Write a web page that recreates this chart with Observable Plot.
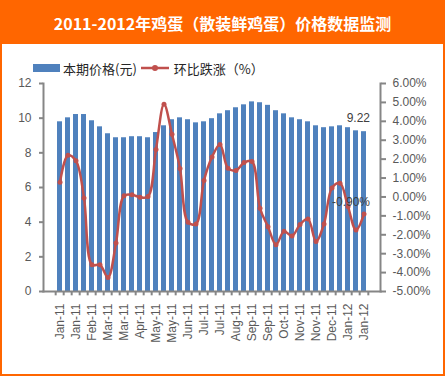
<!DOCTYPE html>
<html><head><meta charset="utf-8">
<script src="https://cdn.jsdelivr.net/npm/d3@7"></script>
<script src="https://cdn.jsdelivr.net/npm/@observablehq/plot@0.6"></script>
<style>
body{margin:0;background:#fff;}
#wrap{position:relative;width:447px;height:377px;overflow:hidden;}
#frame{position:absolute;left:0;top:0;width:445px;height:376px;border:2px solid #FF6600;box-sizing:border-box;}
#title{position:absolute;left:0;top:0;width:445px;height:44px;background:#FF6600;color:#fff;font-family:"Noto Sans CJK SC",sans-serif;font-weight:bold;font-size:16px;text-align:center;line-height:46px;}
#chart{position:absolute;left:0;top:44px;}
#legend{position:absolute;left:33px;top:59px;height:18px;display:flex;align-items:center;font-family:"Noto Sans CJK SC",sans-serif;font-size:13px;color:#262626;white-space:nowrap;}
#legend .sw{display:inline-block;width:27px;height:8px;background:#4F81BD;margin-right:3px;}
</style>
</head><body>
<div id="wrap">
  <div id="frame"></div>
  <div id="title"></div>
  <div id="chart"></div>
  <div id="legend"></div>
</div>
<script>
const titleText = "2011-2012年鸡蛋（散装鲜鸡蛋）价格数据监测";
const seriesNames = ["本期价格(元)", "环比跌涨（%）"];
const categories = [
  "Jan-11","Jan-11","Jan-11","Feb-11","Feb-11","Feb-11","Mar-11","Mar-11","Mar-11",
  "Apr-11","Apr-11","Apr-11","May-11","May-11","May-11","Jun-11","Jun-11","Jun-11",
  "Jul-11","Jul-11","Jul-11","Aug-11","Aug-11","Aug-11","Sep-11","Sep-11","Sep-11",
  "Oct-11","Oct-11","Oct-11","Nov-11","Nov-11","Nov-11","Dec-11","Dec-11","Dec-11",
  "Jan-12","Jan-12","Jan-12"
];
const prices = [
  9.79,10.02,10.21,10.21,9.85,9.50,9.10,8.87,8.87,
  8.93,8.93,8.87,9.17,9.56,9.91,10.02,9.91,9.73,
  9.79,9.97,10.25,10.43,10.60,10.77,10.94,10.89,10.74,
  10.43,10.25,10.02,9.91,9.79,9.56,9.45,9.50,9.56,
  9.45,9.27,9.22
];
const changes = [
  0.78,2.20,1.91,-0.05,-3.59,-3.59,-4.26,-2.44,0.06,
  0.11,-0.01,0.02,2.51,4.90,3.31,1.51,-1.34,-1.43,
  0.87,2.11,2.78,1.52,1.40,1.82,1.88,-0.60,-1.57,
  -2.53,-1.82,-2.06,-1.46,-1.16,-2.35,-1.43,0.48,0.73,
  -0.51,-1.75,-0.90
];
const leftTicks = [0,2,4,6,8,10,12];
const rightTicks = [-5,-4,-3,-2,-1,0,1,2,3,4,5,6];

document.getElementById("title").textContent = titleText;
document.getElementById("legend").innerHTML =
  `<span class="sw"></span><span>${seriesNames[0]}</span>` +
  `<svg width="30" height="10" style="margin:0 3px 0 4px"><line x1="0" y1="5" x2="28" y2="5" stroke="#C0504D" stroke-width="2.5"/><circle cx="14" cy="5" r="3" fill="#C0504D"/></svg>` +
  `<span>${seriesNames[1]}</span>`;

const W = 447, H = 333, mL = 43, mR = 67;
const n = categories.length;
const step = (W - mL - mR) / n;
const data = categories.map((c, i) => ({i, c, price: prices[i], pct: changes[i]}));
const toLeft = p => (p + 5) * 12 / 11;
const gray = "#868686";

const chart = Plot.plot({
  width: W, height: H,
  marginLeft: mL, marginRight: mR, marginTop: 39, marginBottom: 86,
  style: {fontFamily: "'Liberation Sans', sans-serif", fontSize: "12px", color: "#595959", background: "transparent"},
  x: {type: "band", domain: d3.range(n), paddingInner: 0.43, paddingOuter: 0.215, axis: null, label: null},
  y: {domain: [0, 12], axis: null, label: null},
  marks: [
    Plot.barY(data, {x: "i", y: "price", fill: "#4F81BD"}),
    Plot.line(data, {x: "i", y: d => toLeft(d.pct), stroke: "#C0504D", strokeWidth: 2.5, curve: "catmull-rom"}),
    Plot.dot(data, {x: "i", y: d => toLeft(d.pct), r: 2.5, fill: "#C0504D"}),
    Plot.text([data[n - 1]], {x: "i", y: "price", text: d => d.price.toFixed(2), textAnchor: "end", dx: 6, dy: -14, fill: "#404040"}),
    Plot.text([data[n - 1]], {x: "i", y: d => toLeft(d.pct), text: d => d.pct.toFixed(2) + "%", textAnchor: "end", dx: 6, dy: -12, fill: "#404040"}),
    Plot.frame({anchor: "left", stroke: gray, strokeWidth: 2}),
    Plot.frame({anchor: "right", stroke: gray, strokeWidth: 2}),
    Plot.frame({anchor: "bottom", stroke: gray, strokeWidth: 2}),
    Plot.ruleX(data, {x: "i", y1: 0, y2: -0.25, dx: -step / 2, stroke: gray, strokeWidth: 2}),
    Plot.ruleX([data[n - 1]], {x: "i", y1: 0, y2: -0.25, dx: step / 2, stroke: gray, strokeWidth: 2}),
    Plot.axisY({anchor: "left", label: null, ticks: leftTicks, tickSize: 4, tickPadding: 8, stroke: gray, strokeWidth: 2, fill: "#595959"}),
    Plot.axisY({anchor: "right", label: null, ticks: rightTicks.map(toLeft), tickFormat: v => Math.abs(Math.round(v * 11 / 12 - 5)) < 1e-9 ? "0.00%" : Math.round(v * 11 / 12 - 5).toFixed(2) + "%", tickSize: 5, tickPadding: 7, stroke: gray, strokeWidth: 2, fill: "#595959", textAnchor: "start"}),
    Plot.axisX({label: null, ticks: d3.range(0, n, 2), tickFormat: i => categories[i], tickRotate: -90, tickSize: 0, tickPadding: 12, fill: "#595959"})
  ]
});
document.getElementById("chart").appendChild(chart);
</script>
</body></html>
